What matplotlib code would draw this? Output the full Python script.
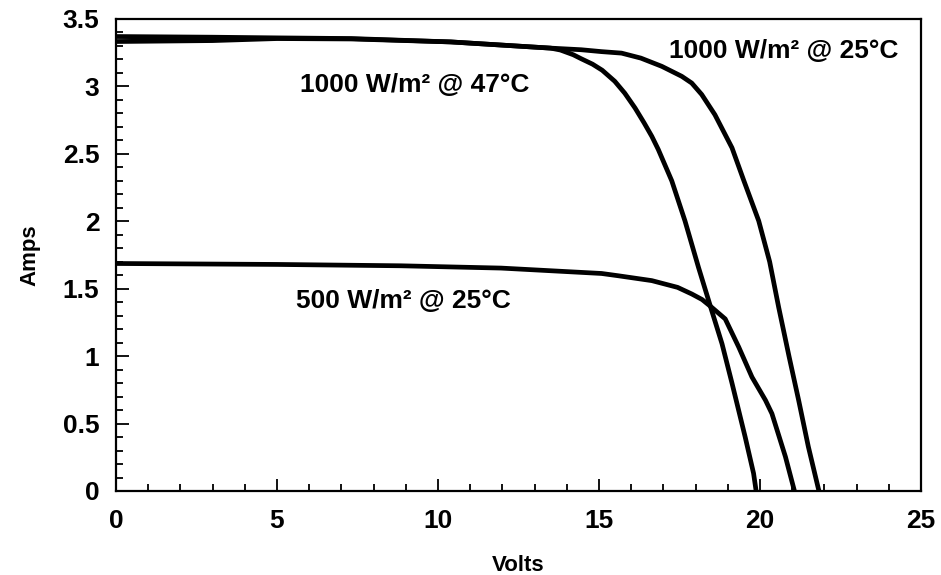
import matplotlib
matplotlib.use("Agg")
import matplotlib.pyplot as plt
from matplotlib.ticker import MultipleLocator

plt.rcParams['font.family'] = ['Liberation Sans', 'DejaVu Sans']

# 1000 W/m2 @ 25 C
v_1000_25 = [0.0, 3.0, 5.0, 7.3, 10.4, 13.5, 14.45, 15.08, 15.7, 16.3, 16.95, 17.57, 17.88, 18.19,
             18.6, 19.13, 19.5, 19.96, 20.3, 20.58, 20.9, 21.2, 21.5, 21.83]
i_1000_25 = [3.333, 3.34, 3.355, 3.352, 3.33, 3.284, 3.272, 3.258, 3.247, 3.21, 3.149, 3.075, 3.025, 2.94,
             2.79, 2.545, 2.30, 2.003, 1.70, 1.362, 1.00, 0.673, 0.33, 0.0]

# 1000 W/m2 @ 47 C
v_1000_47 = [0.0, 3.0, 5.0, 7.3, 10.4, 13.5, 13.8, 14.2, 14.45, 14.8, 15.1, 15.49, 15.8, 16.12, 16.4,
             16.64, 16.84, 17.26, 17.67, 18.09, 18.5, 18.82, 19.13, 19.54, 19.8, 19.88]
i_1000_47 = [3.37, 3.365, 3.36, 3.355, 3.33, 3.284, 3.27, 3.235, 3.205, 3.165, 3.12, 3.038, 2.95, 2.84, 2.73,
             2.63, 2.533, 2.30, 2.003, 1.658, 1.338, 1.092, 0.80, 0.40, 0.131, 0.0]

# 500 W/m2 @ 25 C
v_500_25 = [0.0, 5.0, 8.85, 11.96, 13.52, 15.08, 15.6, 16.64, 17.44, 17.88, 18.2, 18.5, 18.92, 19.34,
            19.75, 20.17, 20.37, 20.79, 21.07]
i_500_25 = [1.687, 1.68, 1.670, 1.653, 1.633, 1.613, 1.596, 1.56, 1.51, 1.461, 1.42, 1.362, 1.276, 1.067,
            0.845, 0.673, 0.574, 0.254, 0.0]

labels = ["1000 W/m² @ 25°C", "1000 W/m² @ 47°C", "500 W/m² @ 25°C"]
label_pos = [(20.75, 3.26), (9.28, 3.01), (8.91, 1.41)]

fig = plt.figure(figsize=(9.41, 5.75), dpi=100)
ax = fig.add_axes([116 / 941, 1 - 491 / 575, (921 - 116) / 941, (491 - 19) / 575])

for v, i in [(v_1000_25, i_1000_25), (v_1000_47, i_1000_47), (v_500_25, i_500_25)]:
    ax.plot(v, i, color='black', lw=3.4, solid_joinstyle='round', solid_capstyle='round')

for txt, (x, y) in zip(labels, label_pos):
    ax.text(x, y, txt, fontsize=19, fontweight='bold', ha='center', va='center')

ax.set_xlim(0, 25)
ax.set_ylim(0, 3.5)
ax.xaxis.set_major_locator(MultipleLocator(5))
ax.xaxis.set_minor_locator(MultipleLocator(1))
ax.yaxis.set_major_locator(MultipleLocator(0.5))
ax.yaxis.set_minor_locator(MultipleLocator(0.1))
ax.xaxis.set_major_formatter(plt.FuncFormatter(lambda x, p: f"{x:g}"))
ax.yaxis.set_major_formatter(plt.FuncFormatter(lambda x, p: f"{x:g}"))
ax.tick_params(which='both', direction='in', top=False, right=False, width=1.3)
ax.tick_params(which='major', length=9, labelsize=19)
ax.tick_params(axis='x', which='major', pad=13)
ax.tick_params(axis='y', which='major', pad=12)
ax.tick_params(which='minor', length=5)
for lbl in ax.get_xticklabels() + ax.get_yticklabels():
    lbl.set_fontweight('bold')
for s in ax.spines.values():
    s.set_linewidth(1.6)

ax.set_xlabel("Volts", fontsize=16, fontweight='bold', labelpad=16)
ax.set_ylabel("Amps", fontsize=16, fontweight='bold', labelpad=16)

fig.savefig("out.png", dpi=100)
